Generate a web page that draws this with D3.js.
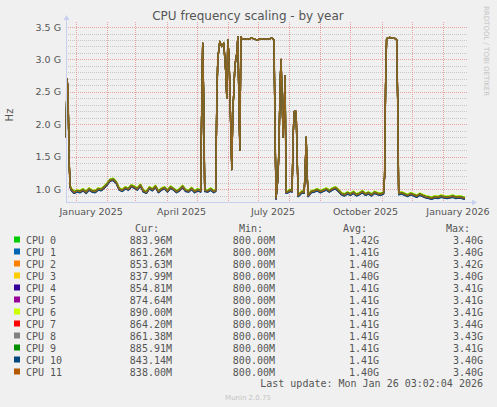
<!DOCTYPE html>
<html><head><meta charset="utf-8">
<script src="https://cdn.jsdelivr.net/npm/d3@7"></script>
<style>
body{margin:0;background:#f0f0f0;}
text{font-family:"DejaVu Sans",sans-serif;}
.mono{font-family:"DejaVu Sans Mono",monospace;font-size:10px;fill:#555;}
</style></head>
<body><div id="chart"></div>
<script>
// day offset from start of graph (Dec 22 2024), frequency in GHz
var baseDays = [0,1,2,3,4,5,8,11,14,17,20,23,26,29,32,35,38,41,44,47,50,53,56,59,62,65,68,71,74,77,80,83,86,89,92,95,98,101,104,107,110,113,116,119,122,125,128,131,134,135,136,137,138,141,144,147,149,150,151,153,155,157,159,160,161,162,163,164,165,166,167,168,170,171,172,173,174,175,180,185,190,195,200,205,207,208,209,211,212,213,214,215,216,217,218,219,221,223,225,226,227,229,230,231,233,235,237,238,239,240,241,244,247,250,253,256,259,262,265,268,271,274,277,280,283,286,289,292,295,298,301,304,307,310,313,316,317,318,319,322,325,328,329,330,331,334,337,340,343,346,349,352,355,358,361,364,367,370,373,376,379,382,385,388,391,394,397,399];
var baseGHz = [1.80,2.70,2.55,1.50,1.05,1.00,0.95,0.97,0.96,0.99,0.95,1.00,0.97,0.96,1.00,0.99,1.03,1.08,1.14,1.15,1.10,1.00,0.98,1.02,1.00,1.05,1.03,1.00,1.06,0.97,0.95,1.02,0.99,1.04,0.96,1.00,1.02,0.97,1.03,1.00,0.96,0.99,1.04,0.98,0.97,1.01,0.96,0.99,0.97,2.20,3.25,2.40,0.98,0.97,1.00,0.96,0.98,2.30,3.00,3.28,3.20,3.25,2.80,2.40,3.30,3.10,2.60,1.90,1.30,2.20,2.50,2.90,3.10,3.35,2.40,1.60,3.35,3.32,3.31,3.33,3.30,3.32,3.31,3.33,3.30,1.90,0.86,1.20,1.70,2.60,3.00,2.40,1.80,2.20,2.75,0.95,0.96,0.98,0.97,1.80,2.20,2.20,1.50,0.90,0.93,0.96,0.95,1.30,1.80,1.20,0.90,0.96,0.97,0.99,0.96,0.98,1.00,0.97,1.00,1.02,0.98,0.93,0.91,0.94,0.92,0.95,0.91,0.93,0.96,0.92,0.94,0.91,0.95,0.93,0.92,0.94,1.20,2.60,3.32,3.34,3.33,3.32,3.30,2.40,0.93,0.94,0.92,0.90,0.93,0.91,0.89,0.92,0.90,0.88,0.87,0.86,0.88,0.87,0.89,0.88,0.87,0.88,0.89,0.87,0.88,0.87,0.86];
var cpuNames = ["CPU 0","CPU 1","CPU 2","CPU 3","CPU 4","CPU 5","CPU 6","CPU 7","CPU 8","CPU 9","CPU 10","CPU 11"];
var cpuColors = ["#00cc00","#0066b3","#ff8000","#ffcc00","#330099","#990099","#ccff00","#ff0000","#808080","#008f00","#00487d","#b35a00"];
var cpuOffset = [0.015,-0.015,0.01,0.012,-0.01,0.005,0.018,-0.012,0.0,0.008,-0.018,0.0];
var curVals = ["883.96M","861.26M","853.63M","837.99M","854.81M","874.64M","890.00M","864.20M","861.38M","885.91M","843.14M","838.00M"];
var minVals = ["800.00M","800.00M","800.00M","800.00M","800.00M","800.00M","800.00M","800.00M","800.00M","800.00M","800.00M","800.00M"];
var avgVals = ["1.42G","1.41G","1.40G","1.40G","1.41G","1.41G","1.41G","1.41G","1.41G","1.41G","1.41G","1.40G"];
var maxVals = ["3.40G","3.40G","3.42G","3.40G","3.41G","3.41G","3.41G","3.44G","3.43G","3.41G","3.40G","3.40G"];
var yTicks = [1.0,1.5,2.0,2.5,3.0,3.5];
var monthLabels = ["January 2025","April 2025","July 2025","October 2025","January 2026"];

var W=497,H=407, L=66, R=468, T=22, B=202;
var svg=d3.select("#chart").append("svg").attr("width",W).attr("height",H);
svg.append("rect").attr("width",W).attr("height",H).attr("fill","#f0f0f0");

var t0=new Date(2024,11,22);
var x=d3.scaleTime().domain([t0,d3.timeDay.offset(t0,400)]).range([L,R]);
var y=d3.scaleLinear().domain([0.8,3.6]).range([B,B-(2.8/0.5)*32.4]);

// grid
var minor=d3.range(0.9,3.55,0.1).filter(function(v){return Math.abs(v*2-Math.round(v*2))>0.01;});
svg.selectAll(".hm").data(minor).enter().append("line")
  .attr("x1",L).attr("x2",R).attr("y1",function(d){return Math.round(y(d))+0.5;}).attr("y2",function(d){return Math.round(y(d))+0.5;})
  .attr("stroke","#c8c8c8").attr("stroke-dasharray","1,1");
var months=d3.timeMonth.range(d3.timeMonth.ceil(t0),d3.timeDay.offset(t0,400));
svg.selectAll(".vm").data(months).enter().append("line")
  .attr("x1",function(d){return Math.round(x(d))+0.5;}).attr("x2",function(d){return Math.round(x(d))+0.5;})
  .attr("y1",T).attr("y2",B).attr("stroke","#e8a0a0").attr("stroke-dasharray","1,1");
svg.selectAll(".hM").data(yTicks).enter().append("line")
  .attr("x1",L).attr("x2",R).attr("y1",function(d){return Math.round(y(d))+0.5;}).attr("y2",function(d){return Math.round(y(d))+0.5;})
  .attr("stroke","#e8a0a0").attr("stroke-dasharray","1,1");

// lines
var line=d3.line().x(function(d){return x(d3.timeDay.offset(t0,d[0]));}).y(function(d){return y(d[1]);});
cpuNames.forEach(function(n,i){
  var pts=baseDays.map(function(dd,j){var v=baseGHz[j]; return [dd, v<1.3? v+cpuOffset[i] : v];});
  svg.append("path").datum(pts).attr("d",line).attr("fill","none")
    .attr("stroke",cpuColors[i]).attr("stroke-width",1.3).attr("stroke-linejoin","round");
});
// blended overlay to mimic the overlapping look
svg.append("path").datum(baseDays.map(function(d,j){return [d,baseGHz[j]];})).attr("d",line)
  .attr("fill","none").attr("stroke","#7a6a30").attr("stroke-width",1.6).attr("opacity",0.6);

// axes
var ax="#c8d0f0";
svg.append("line").attr("x1",L).attr("x2",R+6).attr("y1",B+0.5).attr("y2",B+0.5).attr("stroke",ax);
svg.append("line").attr("x1",L+0.5).attr("x2",L+0.5).attr("y1",B).attr("y2",T-4).attr("stroke",ax);
svg.append("path").attr("d","M"+(R+9)+","+(B+0.5)+"l-5,-3v6z").attr("fill",ax);
svg.append("path").attr("d","M"+(L+0.5)+","+(T-7)+"l-3,5h6z").attr("fill",ax);

svg.selectAll(".yl").data(yTicks).enter().append("text")
  .attr("x",L-5).attr("y",function(d){return y(d)+3.5;}).attr("text-anchor","end")
  .attr("font-size",9.5).attr("fill","#555").text(function(d){return d.toFixed(1)+" G";});
var labDates=[new Date(2025,0,1),new Date(2025,3,1),new Date(2025,6,1),new Date(2025,9,1),new Date(2026,0,1)];
svg.selectAll(".xl").data(labDates).enter().append("text")
  .attr("x",function(d){return x(d3.timeDay.offset(d,15));}).attr("y",B+13).attr("text-anchor","middle")
  .attr("font-size",9.5).attr("fill","#555").text(function(d,i){return monthLabels[i];});

svg.append("text").attr("x",248).attr("y",20).attr("text-anchor","middle").attr("font-size",12).attr("fill","#555").text("CPU frequency scaling - by year");
svg.append("text").attr("transform","translate(13,115) rotate(-90)").attr("text-anchor","middle").attr("font-size",10).attr("fill","#555").text("Hz");
svg.append("text").attr("transform","translate(484,6) rotate(90)").attr("font-size",7).attr("fill","#c4c4c4").text("RRDTOOL / TOBI OETIKER");

// legend
var hdr=[["Cur:",159],["Min:",263],["Avg:",367],["Max:",470]];
hdr.forEach(function(h){svg.append("text").attr("class","mono").attr("x",h[1]).attr("y",232).attr("text-anchor","end").text(h[0]);});
var cols=[[curVals,172],[minVals,275],[avgVals,379],[maxVals,483]];
cpuNames.forEach(function(n,i){
  var yy=243.5+i*12;
  svg.append("rect").attr("x",14).attr("y",yy-7).attr("width",6).attr("height",6).attr("fill",cpuColors[i]);
  svg.append("text").attr("class","mono").attr("x",26).attr("y",yy).text(n);
  cols.forEach(function(c){svg.append("text").attr("class","mono").attr("x",c[1]).attr("y",yy).attr("text-anchor","end").text(c[0][i]);});
});
svg.append("text").attr("class","mono").attr("x",483).attr("y",387).attr("text-anchor","end").text("Last update: Mon Jan 26 03:02:04 2026");
svg.append("text").attr("x",248).attr("y",400).attr("text-anchor","middle").attr("font-size",7).attr("fill","#c4c4c4").text("Munin 2.0.75");
</script></body></html>
